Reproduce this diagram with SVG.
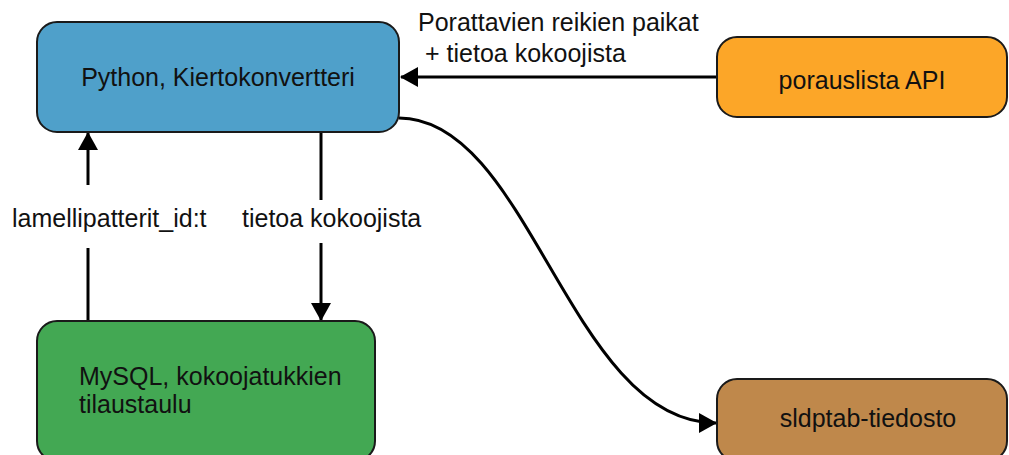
<svg xmlns="http://www.w3.org/2000/svg" width="1009" height="455" viewBox="0 0 1009 455">
<style>
.box{stroke:#1a1a1a;stroke-width:2}
.t{font-family:"Liberation Sans",Arial,sans-serif;font-size:25px;fill:#111}
.c{text-anchor:middle}
.e{fill:none;stroke:#000;stroke-width:3}
</style>
<defs>
<marker id="ah" viewBox="0 0 18 20" refX="17" refY="10" markerWidth="18" markerHeight="20" markerUnits="userSpaceOnUse" orient="auto">
<path d="M0,0 L18,10 L0,20 Z" fill="#000"/>
</marker>
</defs>
<rect width="1009" height="455" fill="#fff"/>
<g id="connectors">
<path class="e" d="M716,77 L401,77" marker-end="url(#ah)"/>
<path class="e" d="M88,321 L88,248"/>
<path class="e" d="M88,185 L88,133" marker-end="url(#ah)"/>
<path class="e" d="M321,133 L321,200"/>
<path class="e" d="M321,243 L321,320" marker-end="url(#ah)"/>
<path class="e" d="M399,118 C530,118 570,423 716,423" marker-end="url(#ah)"/>
<text class="t" x="418" y="31">Porattavien reikien paikat</text>
<text class="t" x="425" y="62">+ tietoa kokoojista</text>
<text class="t" x="12" y="227">lamellipatterit_id:t</text>
<text class="t" x="242" y="227">tietoa kokoojista</text>
</g>
<g id="python">
<rect class="box" x="37" y="22" width="362" height="110" rx="20" fill="#4fa0ca"/>
<text class="t c" x="218" y="86">Python, Kiertokonvertteri</text>
</g>
<g id="porauslista">
<rect class="box" x="717" y="37" width="290" height="80" rx="20" fill="#fca628"/>
<text class="t c" x="862" y="89">porauslista API</text>
</g>
<g id="mysql">
<rect class="box" x="37" y="321" width="338" height="140" rx="20" fill="#43a853"/>
<text class="t" x="79" y="385">MySQL, kokoojatukkien</text>
<text class="t" x="79" y="413">tilaustaulu</text>
</g>
<g id="sldptab">
<rect class="box" x="717" y="379" width="290" height="82" rx="20" fill="#bf884b"/>
<text class="t c" x="868" y="427">sldptab-tiedosto</text>
</g>
</svg>
